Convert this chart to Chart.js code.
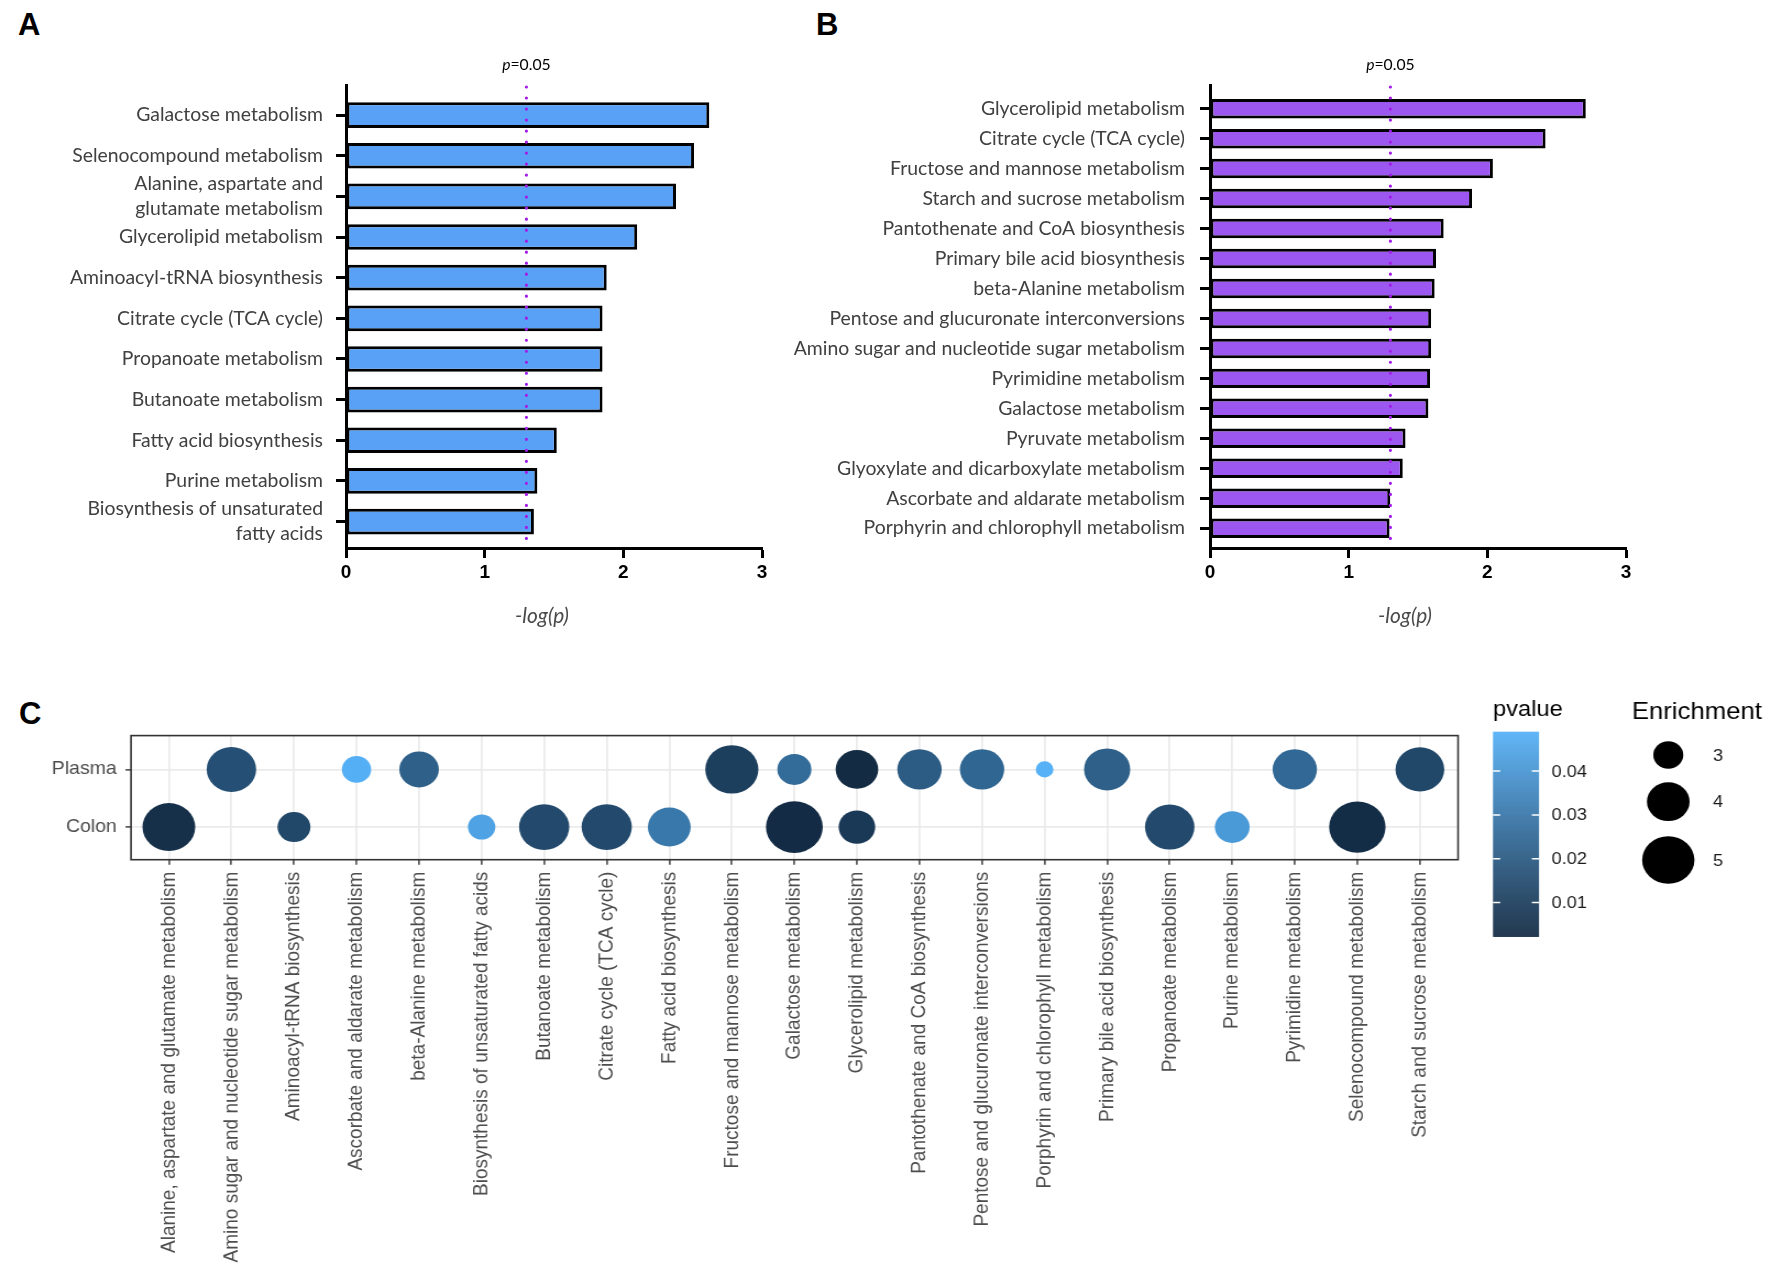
<!DOCTYPE html>
<html><head><meta charset="utf-8">
<script src="https://cdn.jsdelivr.net/npm/chart.js@4"></script>
<style>
html,body{margin:0;padding:0;background:#fff;}
body{width:1771px;height:1278px;position:relative;overflow:hidden;font-family:'Liberation Sans',Arial,sans-serif;}
.box{position:absolute;}
.letter{position:absolute;font:bold 31px 'Liberation Sans',Arial,sans-serif;line-height:31px;color:#000;}
.xt{position:absolute;font-family:Lato,sans-serif;font-style:italic;color:#4a4a4a;transform:translateX(-50%);white-space:nowrap;line-height:24px;}
</style></head><body>
<div class="letter" style="left:18px;top:9px">A</div>
<div class="letter" style="left:816px;top:9px">B</div>
<div class="letter" style="left:19px;top:698px">C</div>
<div class="box" style="left:0;top:40px;width:800px;height:590px"><canvas id="ca"></canvas></div>
<div class="box" style="left:770px;top:40px;width:900px;height:590px"><canvas id="cb"></canvas></div>
<div class="box" style="left:0;top:690px;width:1610px;height:588px;transform:scaleX(1.1);transform-origin:0 0"><canvas id="cc"></canvas></div>
<div class="xt" id="xa" style="left:542px;top:603px">-log(p)</div>
<div class="xt" id="xb" style="left:1405px;top:603px">-log(p)</div>
<script>
// ---------- Panel A (Colon) ----------
const labelsA = ["Galactose metabolism", "Selenocompound metabolism", ["Alanine, aspartate and", "glutamate metabolism"],
  "Glycerolipid metabolism", "Aminoacyl-tRNA biosynthesis", "Citrate cycle (TCA cycle)", "Propanoate metabolism",
  "Butanoate metabolism", "Fatty acid biosynthesis", "Purine metabolism", ["Biosynthesis of unsaturated", "fatty acids"]];
const valuesA = [2.62, 2.51, 2.38, 2.10, 1.88, 1.85, 1.85, 1.85, 1.52, 1.38, 1.355];

// ---------- Panel B (Plasma) ----------
const labelsB = ["Glycerolipid metabolism", "Citrate cycle (TCA cycle)", "Fructose and mannose metabolism",
  "Starch and sucrose metabolism", "Pantothenate and CoA biosynthesis", "Primary bile acid biosynthesis",
  "beta-Alanine metabolism", "Pentose and glucuronate interconversions", "Amino sugar and nucleotide sugar metabolism",
  "Pyrimidine metabolism", "Galactose metabolism", "Pyruvate metabolism", "Glyoxylate and dicarboxylate metabolism",
  "Ascorbate and aldarate metabolism", "Porphyrin and chlorophyll metabolism"];
const valuesB = [2.71, 2.42, 2.04, 1.89, 1.685, 1.63, 1.62, 1.595, 1.595, 1.587, 1.575, 1.41, 1.39, 1.30, 1.295];

const xTicksAB = [0, 1, 2, 3];
const THRESH = -Math.log10(0.05);

// ---------- Panel C ----------
const pathways = ["Alanine, aspartate and glutamate metabolism", "Amino sugar and nucleotide sugar metabolism",
  "Aminoacyl-tRNA biosynthesis", "Ascorbate and aldarate metabolism", "beta-Alanine metabolism",
  "Biosynthesis of unsaturated fatty acids", "Butanoate metabolism", "Citrate cycle (TCA cycle)",
  "Fatty acid biosynthesis", "Fructose and mannose metabolism", "Galactose metabolism", "Glycerolipid metabolism",
  "Pantothenate and CoA biosynthesis", "Pentose and glucuronate interconversions", "Porphyrin and chlorophyll metabolism",
  "Primary bile acid biosynthesis", "Propanoate metabolism", "Purine metabolism", "Pyrimidine metabolism",
  "Selenocompound metabolism", "Starch and sucrose metabolism"];
const rowsC = ["Colon", "Plasma"];
const plasmaEnrich = [null, 4.68, null, 2.95, 3.72, null, null, null, null, 5.09, 3.28, 3.99, 4.16, 4.16, 2.36, 4.34, null, null, 4.16, null, 4.60];
const plasmaP      = [null, 0.016, null, 0.0485, 0.022, null, null, null, null, 0.010, 0.026, 0.0022, 0.0205, 0.024, 0.049, 0.022, null, null, 0.025, null, 0.013];
const colonEnrich  = [5.05, null, 3.20, null, null, 2.84, 4.76, 4.76, 4.02, null, 5.53, 3.48, null, null, null, null, 4.68, 3.34, null, 5.48, null];
const colonP       = [0.0042, null, 0.0132, null, null, 0.0442, 0.0141, 0.0141, 0.0302, null, 0.0024, 0.0079, null, null, null, null, 0.0141, 0.0417, null, 0.0031, null];
const pBreaks = [0.01, 0.02, 0.03, 0.04];
const enrichBreaks = [3, 4, 5];

// ---------- helpers ----------
const mc = document.createElement('canvas').getContext('2d');
function fit(text, font, target) { mc.font = '100px ' + font; return 100 * target / mc.measureText(text).width; }
const LS = fit('Galactose metabolism', 'Lato', 187);
const PS = fit('p=0.05', 'Lato', 49);
mc.font = 'italic 100px Lato';
const XS = 100 * 54 / mc.measureText('-log(p)').width;
document.getElementById('xa').style.fontSize = XS + 'px';
document.getElementById('xb').style.fontSize = XS + 'px';

const thresholdPlugin = {
  id: 'thr',
  afterDatasetsDraw(chart) {
    const {ctx, chartArea: a, scales: {x}} = chart;
    const px = x.getPixelForValue(THRESH);
    ctx.save();
    ctx.strokeStyle = '#A21CE8'; ctx.lineWidth = 3.2; ctx.lineCap = 'round';
    ctx.setLineDash([0.01, 11]);
    ctx.beginPath(); ctx.moveTo(px, a.top + 2); ctx.lineTo(px, a.bottom); ctx.stroke();
    ctx.setLineDash([]);
    ctx.fillStyle = '#000'; ctx.textBaseline = 'middle'; ctx.textAlign = 'left';
    const f1 = 'italic ' + PS + 'px Lato', f2 = PS + 'px Lato';
    ctx.font = f1; const w1 = ctx.measureText('p').width;
    ctx.font = f2; const w2 = ctx.measureText('=0.05').width;
    const sx = px - (w1 + w2) / 2;
    ctx.font = f1; ctx.fillText('p', sx, 25);
    ctx.font = f2; ctx.fillText('=0.05', sx + w1, 25);
    ctx.restore();
  }
};

function barChart(id, labels, values, color, o) {
  const axisGrid = {drawOnChartArea: false, drawTicks: true, tickLength: 10, tickWidth: 3, tickColor: '#000', offset: false};
  const axisBorder = {display: true, color: '#000', width: 3};
  return new Chart(document.getElementById(id), {
    type: 'bar',
    data: {datasets: [{
      data: values.map((v, i) => ({x: v, y: i})),
      backgroundColor: color, borderColor: '#000', borderWidth: 3, borderSkipped: false,
      barPercentage: o.bp, categoryPercentage: 1
    }]},
    options: {
      indexAxis: 'y', responsive: true, maintainAspectRatio: false, animation: false, events: [],
      layout: {padding: {top: 45, right: o.right, left: 0, bottom: 0}},
      plugins: {legend: {display: false}, tooltip: {enabled: false}},
      scales: {
        x: {type: 'linear', min: xTicksAB[0], max: xTicksAB[xTicksAB.length - 1], offset: false,
          afterFit: s => { s.height = 82; },
          afterBuildTicks: s => { s.ticks = xTicksAB.map(v => ({value: v})); },
          ticks: {font: {family: "'Liberation Sans Narrow','Liberation Sans',Arial,sans-serif", weight: 'bold', size: 19}, color: '#000', padding: 3},
          grid: axisGrid, border: axisBorder},
        y: {type: 'linear', reverse: true, min: o.min, max: o.max, offset: false,
          afterFit: s => { s.width = o.yw; },
          afterBuildTicks: s => { s.ticks = labels.map((_, i) => ({value: i})); },
          ticks: {autoSkip: false, callback: v => labels[v], font: {family: 'Lato', size: LS, lineHeight: 25 / LS}, color: '#404040', padding: o.pad},
          grid: axisGrid, border: axisBorder}
      }
    },
    plugins: [thresholdPlugin]
  });
}

barChart('ca', labelsA, valuesA, '#58A1F6', {bp: 0.63, right: 38, yw: 346, min: -0.74, max: 10.65, pad: 13});
barChart('cb', labelsB, valuesB, '#9B57F0', {bp: 0.65, right: 44, yw: 440, min: -0.79, max: 14.66, pad: 15});

// ---------- colour scale (CIELAB interpolation like ggplot) ----------
function hex2rgb(h) { return [1, 3, 5].map(i => parseInt(h.substr(i, 2), 16)); }
function rgb2lab(c) {
  const [r, g, b] = c.map(v => { v /= 255; return v <= 0.04045 ? v / 12.92 : Math.pow((v + 0.055) / 1.055, 2.4); });
  const X = (0.4124 * r + 0.3576 * g + 0.1805 * b) / 0.95047, Y = 0.2126 * r + 0.7152 * g + 0.0722 * b, Z = (0.0193 * r + 0.1192 * g + 0.9505 * b) / 1.08883;
  const f = t => t > 0.008856 ? Math.cbrt(t) : 7.787 * t + 16 / 116;
  const fx = f(X), fy = f(Y), fz = f(Z);
  return [116 * fy - 16, 500 * (fx - fy), 200 * (fy - fz)];
}
function lab2rgb([L, A, B]) {
  const fy = (L + 16) / 116, fx = fy + A / 500, fz = fy - B / 200;
  const fi = t => t * t * t > 0.008856 ? t * t * t : (t - 16 / 116) / 7.787;
  const X = fi(fx) * 0.95047, Y = fi(fy), Z = fi(fz) * 1.08883;
  let r = 3.2406 * X - 1.5372 * Y - 0.4986 * Z, g = -0.9689 * X + 1.8758 * Y + 0.0415 * Z, b = 0.0557 * X - 0.2040 * Y + 1.0570 * Z;
  return [r, g, b].map(v => { v = v <= 0.0031308 ? 12.92 * v : 1.055 * Math.pow(v, 1 / 2.4) - 0.055; return Math.round(Math.min(1, Math.max(0, v)) * 255); });
}
const labLow = rgb2lab(hex2rgb('#132B43')), labHigh = rgb2lab(hex2rgb('#56B1F7'));
const allP = plasmaP.concat(colonP).filter(v => v != null);
const pMin = Math.min(...allP), pMax = Math.max(...allP);
function colorFor(p) {
  const t = Math.min(1, Math.max(0, (p - pMin) / (pMax - pMin)));
  const c = lab2rgb(labLow.map((v, i) => v + (labHigh[i] - v) * t));
  return 'rgb(' + c.join(',') + ')';
}
function radiusOf(e) { return Math.sqrt(760.5 * (e - 2.02)) / 2; }

function points(enrich, pv, row) {
  const out = [];
  enrich.forEach((e, i) => { if (e != null) out.push({x: i, y: row, r: radiusOf(e), p: pv[i]}); });
  return out;
}

const framePlugin = {
  id: 'frame',
  afterDatasetsDraw(chart) {
    const {ctx, chartArea: a} = chart;
    ctx.save(); ctx.strokeStyle = '#333'; ctx.lineWidth = 1.6;
    ctx.strokeRect(a.left, a.top, a.right - a.left, a.bottom - a.top);
    ctx.restore();
  }
};
const legendPlugin = {
  id: 'legendC',
  afterDraw(chart) {
    const ctx = chart.ctx;
    ctx.save();
    ctx.fillStyle = '#000'; ctx.textBaseline = 'middle'; ctx.textAlign = 'left';
    ctx.font = "21.5px 'Liberation Sans', Arial, sans-serif";
    ctx.fillText('pvalue', 1357.3, 20);
    const bx = 1357.3, bw = 41.8, top = 41.7, bot = 246.7;
    for (let y = top; y < bot; y += 1) {
      const p = pMax - (y - top + 0.5) / (bot - top) * (pMax - pMin);
      ctx.fillStyle = colorFor(p); ctx.fillRect(bx, y, bw, 1.2);
    }
    ctx.strokeStyle = '#fff'; ctx.lineWidth = 1.5;
    ctx.font = "16.5px 'Liberation Sans', Arial, sans-serif"; ctx.fillStyle = '#1a1a1a';
    pBreaks.forEach(p => {
      const y = bot - (p - pMin) / (pMax - pMin) * (bot - top);
      ctx.beginPath(); ctx.moveTo(bx, y); ctx.lineTo(bx + 6.5, y); ctx.moveTo(bx + bw - 6.5, y); ctx.lineTo(bx + bw, y); ctx.stroke();
      ctx.fillText(p.toFixed(2), 1410.6, y + 1);
    });
    ctx.fillStyle = '#000';
    ctx.font = "23.4px 'Liberation Sans', Arial, sans-serif";
    ctx.fillText('Enrichment', 1483.4, 23);
    const ys = [65, 111.7, 170];
    ctx.font = "16.5px 'Liberation Sans', Arial, sans-serif";
    enrichBreaks.forEach((e, i) => {
      ctx.fillStyle = '#000';
      ctx.beginPath(); ctx.arc(1516.6, ys[i], radiusOf(e), 0, Math.PI * 2); ctx.fill();
      ctx.fillStyle = '#1a1a1a';
      ctx.fillText(String(e), 1557.3, ys[i] + 1);
    });
    ctx.restore();
  }
};

const gridC = {color: '#EBEBEB', lineWidth: 1.8, drawTicks: true, tickLength: 5, tickColor: '#333', tickWidth: 1.4};
new Chart(document.getElementById('cc'), {
  type: 'bubble',
  data: {datasets: [
    {label: 'Plasma', data: points(plasmaEnrich, plasmaP, 2)},
    {label: 'Colon', data: points(colonEnrich, colonP, 1)}
  ]},
  options: {
    responsive: true, maintainAspectRatio: false, animation: false, events: [],
    layout: {padding: {top: 45.6, right: 284.5, left: 0, bottom: 0}},
    plugins: {legend: {display: false}, tooltip: {enabled: false}},
    elements: {point: {backgroundColor: c => colorFor(c.raw.p), borderWidth: 0, hoverBorderWidth: 0}},
    scales: {
      x: {type: 'linear', min: -0.605, max: 20.61,
        afterFit: s => { s.height = 418.3; },
        afterBuildTicks: s => { s.ticks = pathways.map((_, i) => ({value: i})); },
        ticks: {autoSkip: false, maxRotation: 90, minRotation: 90, callback: v => pathways[v],
          font: {family: "'Liberation Sans', Arial, sans-serif", size: 19}, color: '#4D4D4D', padding: 7},
        grid: gridC, border: {display: false}},
      y: {type: 'linear', min: 0.435, max: 2.586,
        afterFit: s => { s.width = 119.1; },
        afterBuildTicks: s => { s.ticks = rowsC.map((_, i) => ({value: i + 1})); },
        ticks: {autoSkip: false, callback: v => rowsC[v - 1],
          font: {family: "'Liberation Sans', Arial, sans-serif", size: 17.7}, color: '#4D4D4D', padding: 8},
        grid: gridC, border: {display: false}}
    }
  },
  plugins: [framePlugin, legendPlugin]
});
</script>
</body></html>
